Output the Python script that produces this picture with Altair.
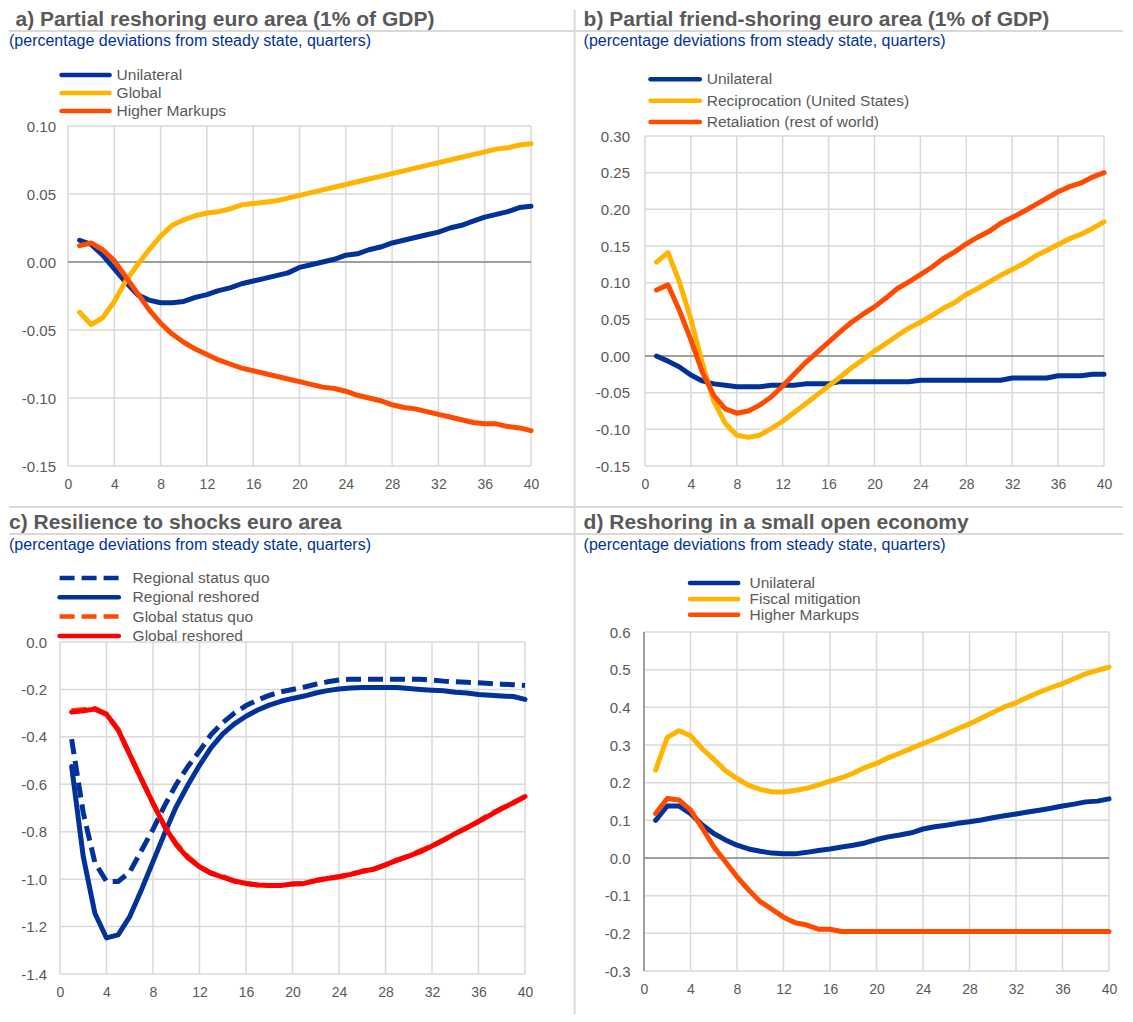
import altair as alt
import pandas as pd

# ---------------- data ----------------
quarters = list(range(1, 41))
x_ticks = list(range(0, 41, 4))

# a) Partial reshoring euro area
a_unilateral = [0.016, 0.013, 0.005, -0.005, -0.015, -0.024, -0.028, -0.030, -0.030, -0.029,
                -0.026, -0.024, -0.021, -0.019, -0.016, -0.014, -0.012, -0.010, -0.008, -0.004,
                -0.002, 0.000, 0.002, 0.005, 0.006, 0.009, 0.011, 0.014, 0.016, 0.018,
                0.020, 0.022, 0.025, 0.027, 0.030, 0.033, 0.035, 0.037, 0.040, 0.041]
a_global = [-0.037, -0.046, -0.041, -0.029, -0.014, -0.002, 0.009, 0.019, 0.027, 0.031,
            0.034, 0.036, 0.037, 0.039, 0.042, 0.043, 0.044, 0.045, 0.047, 0.049,
            0.051, 0.053, 0.055, 0.057, 0.059, 0.061, 0.063, 0.065, 0.067, 0.069,
            0.071, 0.073, 0.075, 0.077, 0.079, 0.081, 0.083, 0.084, 0.086, 0.087]
a_markups = [0.012, 0.014, 0.009, 0.001, -0.011, -0.023, -0.035, -0.045, -0.053, -0.059,
             -0.064, -0.068, -0.072, -0.075, -0.078, -0.080, -0.082, -0.084, -0.086, -0.088,
             -0.090, -0.092, -0.093, -0.095, -0.098, -0.100, -0.102, -0.105, -0.107, -0.108,
             -0.110, -0.112, -0.114, -0.116, -0.118, -0.119, -0.119, -0.121, -0.122, -0.124]

# b) Partial friend-shoring euro area
b_unilateral = [0.000, -0.007, -0.015, -0.026, -0.034, -0.038, -0.040, -0.042, -0.042, -0.042,
                -0.040, -0.040, -0.040, -0.038, -0.038, -0.038, -0.035, -0.035, -0.035, -0.035,
                -0.035, -0.035, -0.035, -0.033, -0.033, -0.033, -0.033, -0.033, -0.033, -0.033,
                -0.033, -0.030, -0.030, -0.030, -0.030, -0.027, -0.027, -0.027, -0.025, -0.025]
b_reciprocation = [0.128, 0.141, 0.101, 0.050, -0.010, -0.062, -0.092, -0.108, -0.111, -0.108,
                   -0.099, -0.089, -0.077, -0.065, -0.053, -0.041, -0.029, -0.016, -0.005, 0.007,
                   0.017, 0.028, 0.038, 0.046, 0.055, 0.065, 0.073, 0.084, 0.092, 0.101,
                   0.110, 0.118, 0.126, 0.136, 0.144, 0.152, 0.160, 0.166, 0.174, 0.183]
b_retaliation = [0.090, 0.097, 0.062, 0.022, -0.022, -0.054, -0.072, -0.078, -0.075, -0.067,
                 -0.056, -0.041, -0.025, -0.009, 0.005, 0.019, 0.033, 0.046, 0.057, 0.067,
                 0.079, 0.092, 0.101, 0.111, 0.121, 0.133, 0.142, 0.153, 0.162, 0.170,
                 0.181, 0.189, 0.197, 0.206, 0.215, 0.224, 0.231, 0.236, 0.244, 0.250]

# c) Resilience to shocks euro area
c_regional_sq = [-0.41, -0.72, -0.93, -1.01, -1.01, -0.97, -0.88, -0.79, -0.69, -0.60,
                 -0.525, -0.46, -0.39, -0.34, -0.30, -0.268, -0.245, -0.225, -0.21, -0.20,
                 -0.19, -0.178, -0.168, -0.16, -0.157, -0.157, -0.157, -0.157, -0.157, -0.157,
                 -0.157, -0.16, -0.165, -0.168, -0.17, -0.172, -0.175, -0.178, -0.18, -0.183]
c_regional_rs = [-0.525, -0.905, -1.144, -1.248, -1.235, -1.158, -1.046, -0.926, -0.807, -0.694,
                 -0.603, -0.52, -0.445, -0.387, -0.345, -0.313, -0.287, -0.266, -0.25, -0.238,
                 -0.228, -0.215, -0.205, -0.198, -0.194, -0.192, -0.192, -0.192, -0.192, -0.196,
                 -0.20, -0.203, -0.206, -0.212, -0.215, -0.221, -0.225, -0.228, -0.23, -0.242]
c_global_sq = [-0.29, -0.285, -0.28, -0.305, -0.37, -0.475, -0.578, -0.68, -0.778, -0.85,
               -0.905, -0.948, -0.975, -0.988, -1.008, -1.018, -1.025, -1.027, -1.027, -1.02,
               -1.018, -1.006, -0.997, -0.99, -0.98, -0.967, -0.958, -0.94, -0.92, -0.903,
               -0.88, -0.86, -0.835, -0.808, -0.783, -0.757, -0.725, -0.702, -0.678, -0.652]
c_global_rs = [-0.295, -0.29, -0.283, -0.305, -0.37, -0.475, -0.578, -0.68, -0.778, -0.855,
               -0.91, -0.948, -0.975, -0.992, -1.008, -1.018, -1.025, -1.027, -1.027, -1.02,
               -1.018, -1.006, -0.997, -0.99, -0.98, -0.967, -0.958, -0.94, -0.92, -0.903,
               -0.884, -0.86, -0.835, -0.808, -0.783, -0.757, -0.73, -0.702, -0.678, -0.652]

# d) Reshoring in a small open economy
d_unilateral = [0.100, 0.138, 0.138, 0.118, 0.088, 0.065, 0.048, 0.034, 0.024, 0.018,
                0.013, 0.011, 0.011, 0.015, 0.020, 0.024, 0.029, 0.034, 0.040, 0.049,
                0.056, 0.061, 0.067, 0.077, 0.083, 0.087, 0.092, 0.096, 0.101, 0.107,
                0.112, 0.117, 0.122, 0.127, 0.132, 0.138, 0.143, 0.149, 0.151, 0.157]
d_fiscal = [0.233, 0.320, 0.338, 0.325, 0.290, 0.262, 0.232, 0.211, 0.193, 0.182,
            0.176, 0.175, 0.179, 0.185, 0.194, 0.204, 0.213, 0.225, 0.240, 0.251,
            0.266, 0.278, 0.291, 0.304, 0.316, 0.329, 0.343, 0.356, 0.371, 0.386,
            0.401, 0.412, 0.427, 0.440, 0.452, 0.463, 0.476, 0.489, 0.498, 0.507]
d_markups = [0.118, 0.158, 0.154, 0.128, 0.080, 0.030, -0.010, -0.050, -0.085, -0.116,
             -0.136, -0.157, -0.172, -0.178, -0.189, -0.189, -0.195, -0.195, -0.195, -0.195,
             -0.195, -0.195, -0.195, -0.195, -0.195, -0.195, -0.195, -0.195, -0.195, -0.195,
             -0.195, -0.195, -0.195, -0.195, -0.195, -0.195, -0.195, -0.195, -0.195, -0.195]

a_yticks = [-0.15, -0.10, -0.05, 0.0, 0.05, 0.10]
b_yticks = [-0.15, -0.10, -0.05, 0.0, 0.05, 0.10, 0.15, 0.20, 0.25, 0.30]
c_yticks = [-1.4, -1.2, -1.0, -0.8, -0.6, -0.4, -0.2, 0.0]
d_yticks = [-0.3, -0.2, -0.1, 0.0, 0.1, 0.2, 0.3, 0.4, 0.5, 0.6]

subtitle_text = "(percentage deviations from steady state, quarters)"
a_title = "a) Partial reshoring euro area (1% of GDP)"
b_title = "b) Partial friend-shoring euro area (1% of GDP)"
c_title = "c) Resilience to shocks euro area"
d_title = "d) Reshoring in a small open economy"

a_names = ["Unilateral", "Global", "Higher Markups"]
b_names = ["Unilateral", "Reciprocation (United States)", "Retaliation (rest of world)"]
c_names = ["Regional status quo", "Regional reshored", "Global status quo", "Global reshored"]
d_names = ["Unilateral", "Fiscal mitigation", "Higher Markups"]

# ---------------- style ----------------
FONT = "Liberation Sans"
TXT = "#595959"
BLUE_TXT = "#003299"
GRID = "#d9d9d9"
ZERO = "#898989"
SEP = "#d9d9d9"
BLUE = "#003299"
YELLOW = "#FFB400"
ORANGE = "#FF4B00"
RED = "#FF0000"
DASH = [15, 7]
LW = 5
LEG_W = 4.5


def one_row(**kw):
    return pd.DataFrame({k: [v] for k, v in kw.items()})


def make_panel(p):
    W, H = p["size"]
    yt = p["yticks"]
    ymin, ymax = yt[0], yt[-1]
    xs = alt.Scale(domain=[0, 40], range=p["xrange"], nice=False, zero=False)
    ys = alt.Scale(domain=[ymin, ymax], range=p["yrange"], nice=False, zero=False)
    fmt = p["fmt"]
    x_axis = alt.Axis(values=x_ticks, grid=False, domain=False, ticks=False, title=None,
                      labelFont=FONT, labelFontSize=14, labelColor=TXT,
                      labelPadding=p["xpad"], labelFlush=False, labelOverlap=False)
    y_axis = alt.Axis(values=yt, grid=False, domain=False, ticks=False, title=None,
                      labelFont=FONT, labelFontSize=15, labelColor=TXT,
                      labelPadding=p["ypad"], labelFlush=False, labelOverlap=False,
                      labelExpr=f"(datum.value < -1e-9 ? '-' : '') + format(abs(datum.value), '{fmt}')")

    def X(f):
        return alt.X(f, scale=xs, axis=x_axis)

    def Y(f):
        return alt.Y(f, scale=ys, axis=y_axis)

    layers = []
    # vertical gridlines
    vg = pd.DataFrame({"t": x_ticks, "y0": [ymin] * len(x_ticks), "y1": [ymax] * len(x_ticks)})
    layers.append(alt.Chart(vg).mark_rule(color=GRID, strokeWidth=1.5).encode(
        x=X("t:Q"), y=Y("y0:Q"), y2="y1:Q"))
    # horizontal gridlines
    hg = pd.DataFrame({"v": yt, "x0": [0] * len(yt), "x1": [40] * len(yt)})
    layers.append(alt.Chart(hg).mark_rule(color=GRID, strokeWidth=1.5).encode(
        y=Y("v:Q"), x=X("x0:Q"), x2="x1:Q"))
    if p.get("zero"):
        layers.append(alt.Chart(one_row(v=0.0, x0=0, x1=40)).mark_rule(color=ZERO, strokeWidth=1.5).encode(
            y=Y("v:Q"), x=X("x0:Q"), x2="x1:Q"))
    if p.get("leftaxis"):
        layers.append(alt.Chart(one_row(t=0, y0=ymin, y1=ymax)).mark_rule(color=ZERO, strokeWidth=1.5).encode(
            x=X("t:Q"), y=Y("y0:Q"), y2="y1:Q"))
    # series
    for name, vals, color, dash in p["series"]:
        df = pd.DataFrame({"q": quarters, "v": vals})
        kw = dict(color=color, strokeWidth=LW, strokeJoin="round")
        if dash:
            kw.update(strokeDash=dash, strokeCap="butt")
        else:
            kw.update(strokeCap="round")
        layers.append(alt.Chart(df).mark_line(**kw).encode(x=X("q:Q"), y=Y("v:Q")))
    # legend (manual, Excel-like)
    lg = p["legend"]
    for i, (name, vals, color, dash) in enumerate(p["series"]):
        ry = lg["y0"] + i * lg["dy"]
        kw = dict(color=color, strokeWidth=LEG_W)
        if dash:
            kw.update(strokeDash=dash, strokeCap="butt")
        else:
            kw.update(strokeCap="round")
        layers.append(alt.Chart(one_row(label=name)).mark_rule(**kw).encode(
            x=alt.value(lg["x0"]), x2=alt.value(lg["x1"]), y=alt.value(ry)))
        layers.append(alt.Chart(one_row(label=name)).mark_text(
            align="left", baseline="middle", font=FONT, fontSize=15.5, color=TXT).encode(
            x=alt.value(lg["lx"]), y=alt.value(ry), text="label:N"))
    # title and subtitle
    tx, ty = p["title_pos"]
    layers.append(alt.Chart(one_row(label=p["title"])).mark_text(
        align="left", baseline="alphabetic", font=FONT, fontSize=21, fontWeight="bold", color=TXT).encode(
        x=alt.value(tx), y=alt.value(ty), text="label:N"))
    sx, sy = p["sub_pos"]
    layers.append(alt.Chart(one_row(label=subtitle_text)).mark_text(
        align="left", baseline="alphabetic", font=FONT, fontSize=16, color=BLUE_TXT).encode(
        x=alt.value(sx), y=alt.value(sy), text="label:N"))
    # separators
    for (x0, x1, y0, y1) in p.get("seps", []):
        enc = dict(x=alt.value(x0), y=alt.value(y0))
        if x1 is not None:
            enc["x2"] = alt.value(x1)
        if y1 is not None:
            enc["y2"] = alt.value(y1)
        layers.append(alt.Chart(one_row(k=0)).mark_rule(color=SEP, strokeWidth=2).encode(**enc))
    return alt.layer(*layers).properties(width=W, height=H)


panel_a = make_panel(dict(
    size=(471, 340), xrange=[8, 471], yrange=[340, 0], yticks=a_yticks, fmt=".2f",
    xpad=11, ypad=4.5, zero=True,
    series=[(a_names[0], a_unilateral, BLUE, None), (a_names[1], a_global, YELLOW, None),
            (a_names[2], a_markups, ORANGE, None)],
    legend=dict(y0=-51, dy=18, x0=1.5, x1=49.6, lx=56.6),
    title=a_title, title_pos=(-44.5, -100.5), sub_pos=(-51, -80),
    seps=[(-51, 1063, -95, None)],
))

panel_b = make_panel(dict(
    size=(465, 340), xrange=[1, 460], yrange=[340, 10], yticks=b_yticks, fmt=".2f",
    xpad=11, ypad=14.5, zero=True,
    series=[(b_names[0], b_unilateral, BLUE, None), (b_names[1], b_reciprocation, YELLOW, None),
            (b_names[2], b_retaliation, ORANGE, None)],
    legend=dict(y0=-46.7, dy=21.4, x0=6.5, x1=55.8, lx=62.7),
    title=b_title, title_pos=(-60.4, -100.5), sub_pos=(-60.4, -80),
    seps=[(-69.4, None, -116, 888)],
))

panel_c = make_panel(dict(
    size=(471, 342), xrange=[0, 465], yrange=[342, 10], yticks=c_yticks, fmt=".1f",
    xpad=11, ypad=13.5, zero=False,
    series=[(c_names[0], c_regional_sq, BLUE, DASH), (c_names[1], c_regional_rs, BLUE, None),
            (c_names[2], c_global_sq, ORANGE, DASH), (c_names[3], c_global_rs, RED, None)],
    legend=dict(y0=-54, dy=19.3, x0=-0.4, x1=58.8, lx=72.6),
    title=c_title, title_pos=(-51, -103), sub_pos=(-51, -82),
    seps=[(-51, 1063, -125, None), (-51, 1063, -98, None)],
))

panel_d = make_panel(dict(
    size=(465, 342), xrange=[0, 465], yrange=[339, 0], yticks=d_yticks, fmt=".1f",
    xpad=8.5, ypad=14, zero=True, leftaxis=True,
    series=[(d_names[0], d_unilateral, BLUE, None), (d_names[1], d_fiscal, YELLOW, None),
            (d_names[2], d_markups, ORANGE, None)],
    legend=dict(y0=-49, dy=15.9, x0=46, x1=94.2, lx=105.5),
    title=d_title, title_pos=(-60.4, -103), sub_pos=(-60.4, -82),
))

chart = alt.concat(
    panel_a, panel_b, panel_c, panel_d,
    columns=2, spacing={"row": 164, "column": 113}, bounds="flush", align="all",
).properties(
    padding={"left": 0, "top": 0, "right": 0, "bottom": 0},
).configure_view(stroke=None)

chart.save("out.html", embed_options={"renderer": "svg", "actions": False})
